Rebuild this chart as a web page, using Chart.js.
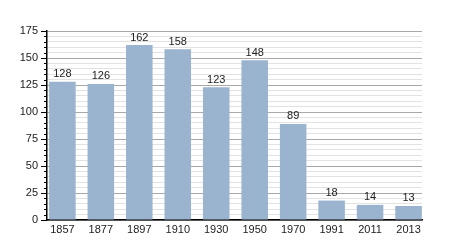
<!DOCTYPE html>
<html>
<head>
<meta charset="utf-8">
<script src="https://cdn.jsdelivr.net/npm/chart.js@4/dist/chart.umd.min.js"></script>
<style>
  html, body { margin: 0; padding: 0; background: #fff; }
  #wrap { width: 450px; height: 250px; }
</style>
</head>
<body>
<div id="wrap"><canvas id="myChart" width="450" height="250"></canvas></div>
<script>
const years = ["1857", "1877", "1897", "1910", "1930", "1950", "1970", "1991", "2011", "2013"];
const population = [128, 126, 162, 158, 123, 148, 89, 18, 14, 13];
const yTicks = [0, 25, 50, 75, 100, 125, 150, 175];

const barColor = "#9ab3cf";
const font = { family: "'Liberation Sans', Arial, sans-serif", size: 11 };

// value labels over each bar
const barLabels = {
  id: "barLabels",
  afterDatasetsDraw(chart) {
    const c = chart.ctx;
    const meta = chart.getDatasetMeta(0);
    c.save();
    c.font = font.size + "px " + font.family;
    c.fillStyle = "#222";
    c.textAlign = "center";
    c.textBaseline = "bottom";
    meta.data.forEach((bar, i) => {
      c.fillText(population[i], bar.x, bar.y - 2);
    });
    c.restore();
  }
};

// y axis tick marks, long on the labelled values, short in between
const yTickMarks = {
  id: "yTickMarks",
  afterDraw(chart) {
    const c = chart.ctx;
    const y = chart.scales.y;
    const left = chart.chartArea.left;
    c.save();
    c.strokeStyle = "#000";
    c.lineWidth = 1;
    for (let v = 0; v <= 175; v += 5) {
      const py = Math.round(y.getPixelForValue(v)) + 0.5;
      const len = v % 25 === 0 ? 6 : 3;
      c.beginPath();
      c.moveTo(left - len, py);
      c.lineTo(left, py);
      c.stroke();
    }
    c.restore();
  }
};

new Chart(document.getElementById("myChart"), {
  type: "bar",
  data: {
    datasets: [{
      data: population.map((v, i) => ({ x: i, y: v })),
      backgroundColor: barColor,
      borderWidth: 0,
      barPercentage: 0.69,
      categoryPercentage: 1
    }]
  },
  options: {
    responsive: false,
    animation: false,
    layout: { padding: { top: 31, right: 28, left: 0, bottom: 0 } },
    plugins: { legend: { display: false }, tooltip: { enabled: false } },
    scales: {
      x: {
        type: "linear",
        offset: false,
        min: -0.4,
        max: 9.35,
        grid: { display: false, drawTicks: false, offset: false },
        border: { display: true, color: "#000", width: 1.5 },
        ticks: {
          stepSize: 1,
          includeBounds: false,
          autoSkip: false,
          maxRotation: 0,
          padding: 3,
          color: "#222",
          font: font,
          callback: (v) => Number.isInteger(v) && years[v] ? years[v] : ""
        },
        afterFit: (s) => { s.height = 30; }
      },
      y: {
        min: 0,
        max: 175,
        grid: {
          drawTicks: false,
          color: (ctx) => ctx.tick && ctx.tick.value % 25 === 0 ? "#a8a8a8" : "#e2e2e2",
          lineWidth: 1
        },
        border: { display: true, color: "#000", width: 1.5 },
        ticks: {
          stepSize: 5,
          autoSkip: false,
          padding: 9,
          color: "#222",
          font: font,
          callback: (v) => yTicks.includes(v) ? v : ""
        },
        afterFit: (s) => { s.width = 47; }
      }
    }
  },
  plugins: [barLabels, yTickMarks]
});
</script>
</body>
</html>
